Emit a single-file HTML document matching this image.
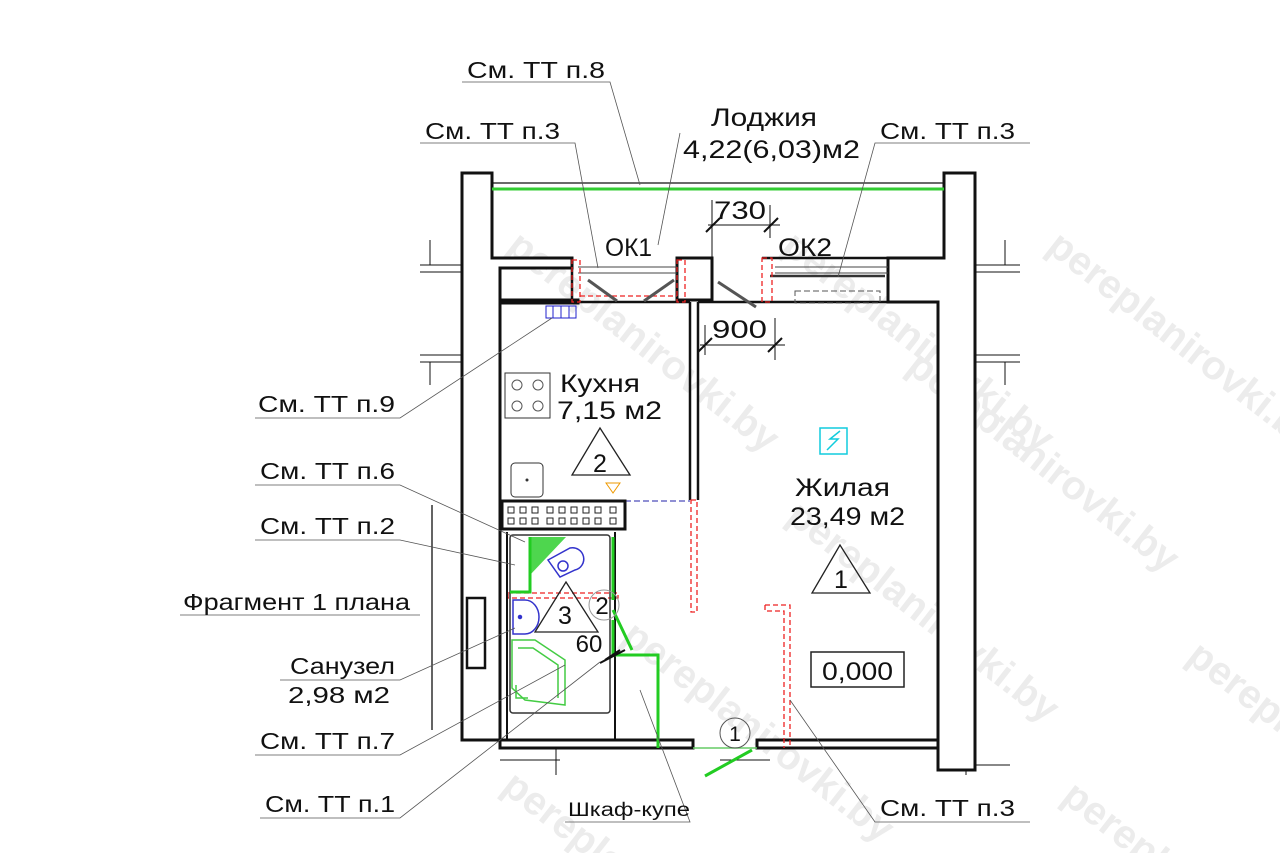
<!DOCTYPE html>
<html><head><meta charset="utf-8"><style>
html,body{margin:0;padding:0;background:#fff;width:1280px;height:853px;overflow:hidden}
svg{display:block}
text{font-family:"Liberation Sans",sans-serif;fill:#111}
.wm{font-family:"Liberation Sans",sans-serif;font-weight:bold;font-size:40px;fill:#ececec}
</style></head><body>
<svg width="1280" height="853" viewBox="0 0 1280 853" xmlns="http://www.w3.org/2000/svg">
<g>
<text class="wm" transform="translate(505,250) rotate(38)">pereplanirovki.by</text>
<text class="wm" transform="translate(780,250) rotate(38)">pereplanirovki.by</text>
<text class="wm" transform="translate(1045,250) rotate(38)">pereplanirovki.by</text>
<text class="wm" transform="translate(905,370) rotate(38)">pereplanirovki.by</text>
<text class="wm" transform="translate(785,520) rotate(38)">pereplanirovki.by</text>
<text class="wm" transform="translate(620,640) rotate(38)">pereplanirovki.by</text>
<text class="wm" transform="translate(1185,660) rotate(38)">pereplanirovki.by</text>
<text class="wm" transform="translate(500,790) rotate(38)">pereplanirovki.by</text>
<text class="wm" transform="translate(1060,800) rotate(38)">pereplanirovki.by</text>
</g>

<g fill="none" stroke="#111" stroke-width="1">
<path d="M420,265 H462 M420,272 H462 M420,355 H462 M420,362 H462 M975,265 H1020 M975,272 H1020 M975,355 H1020 M975,362 H1020"/>
<path d="M430,240 V265 M430,362 V385 M1005,240 V265 M1005,362 V385"/>
<path d="M500,760 H560 M720,760 H770 M965,765 H1010 M556,748 V775 M966,770 V775"/>
</g>

<g fill="#fff" stroke="#111" stroke-width="3" stroke-linejoin="miter">
<path d="M462,173 H492 V258 H572 V268 H500 V300 H578 V303 H500 V740 H462 Z"/>
<path d="M944,173 H975 V770 H938 V302 H888 V258 H944 Z"/>
<rect x="677" y="258" width="35" height="42"/>
<rect x="500" y="740" width="193" height="8"/>
<rect x="757" y="740" width="181" height="8"/>
</g>
<g fill="none" stroke="#111" stroke-width="2.5">
<path d="M492,258 H572 V300 M500,300 H578"/>
<path d="M762,258 H888 V300"/>
<path d="M500,302 H690 M698,302 H938"/>
<path d="M690,302 V500 M698,302 V500"/>
<path d="M500,302 V740"/>
<path d="M938,302 V770"/>
</g>
<line x1="492" y1="183" x2="944" y2="183" stroke="#111" stroke-width="1.2"/>
<line x1="492" y1="189" x2="944" y2="189" stroke="#3c3" stroke-width="3"/>
<g stroke="#444" stroke-width="1" fill="none">
<path d="M578,267 H677 M578,273 H677 M775,267 H888 M775,273 H888"/>
</g>
<line x1="770" y1="276" x2="885" y2="276" stroke="#333" stroke-width="2.5"/>
<rect x="795" y="291" width="85" height="12" fill="none" stroke="#555" stroke-dasharray="6,3"/>
<g fill="none" stroke="#e22" stroke-width="1.3" stroke-dasharray="5,3">
<rect x="572" y="260" width="8" height="42"/>
<rect x="677" y="260" width="8" height="42"/>
<rect x="762" y="258" width="10" height="44"/>
<path d="M580,296 H677"/>
<rect x="691" y="500" width="6" height="112"/>
<path d="M765,605 H790 V748 M765,605 V611 H784 V748"/>
<rect x="508" y="593" width="110" height="5"/>
</g>
<g stroke="#555" stroke-width="3">
<line x1="588" y1="280" x2="617" y2="301"/>
<line x1="674" y1="280" x2="644" y2="301"/>
<line x1="718" y1="282" x2="756" y2="307"/>
</g>
<g stroke="#111" stroke-width="1" fill="none">
<path d="M708,225 H780 M712,200 V258 M770,205 V238"/>
<path d="M706,232 L720,218 M764,232 L778,218" stroke-width="2"/>
<path d="M700,345 H785 M705,325 V355 M775,318 V360"/>
<path d="M698,352 L712,338 M768,352 L782,338" stroke-width="2"/>
</g>
<rect x="505" y="373" width="45" height="45" fill="none" stroke="#333"/>
<g fill="none" stroke="#555"><circle cx="517" cy="385" r="5"/><circle cx="538" cy="385" r="5"/><circle cx="517" cy="406" r="5"/><circle cx="538" cy="406" r="5"/></g>
<rect x="511" y="463" width="32" height="34" rx="4" fill="none" stroke="#333"/>
<circle cx="527" cy="480" r="1.5" fill="#333"/>
<rect x="546" y="306" width="30" height="12" fill="none" stroke="#22c"/>
<path d="M553,306 V318 M561,306 V318 M569,306 V318" stroke="#22c"/>
<polygon points="606,483 620,483 613,493" fill="none" stroke="#e90"/>
<line x1="625" y1="501" x2="690" y2="501" stroke="#22a" stroke-dasharray="6,3"/>
<rect x="502" y="501" width="123" height="28" fill="#fff" stroke="#111" stroke-width="3"/>
<g fill="none" stroke="#222" stroke-width="1">
<rect x="508" y="507" width="6" height="6"/><rect x="520" y="507" width="6" height="6"/><rect x="532" y="507" width="6" height="6"/><rect x="547" y="507" width="6" height="6"/><rect x="559" y="507" width="6" height="6"/><rect x="571" y="507" width="6" height="6"/><rect x="583" y="507" width="6" height="6"/><rect x="595" y="507" width="6" height="6"/><rect x="610" y="507" width="6" height="6"/>
<rect x="508" y="518" width="6" height="6"/><rect x="520" y="518" width="6" height="6"/><rect x="532" y="518" width="6" height="6"/><rect x="547" y="518" width="6" height="6"/><rect x="559" y="518" width="6" height="6"/><rect x="571" y="518" width="6" height="6"/><rect x="583" y="518" width="6" height="6"/><rect x="595" y="518" width="6" height="6"/><rect x="610" y="518" width="6" height="6"/>
</g>
<rect x="510" y="535" width="100" height="178" rx="3" fill="none" stroke="#333" stroke-width="1.5"/>
<path d="M507,532 V740 M615,532 V740" stroke="#111" stroke-width="2"/>
<g fill="none" stroke="#2c2" stroke-width="3">
<path d="M613,537 V600 M613,620 V655 H658 V748"/>
<path d="M613,610 L632,650"/>
<path d="M530,537 V592 H510"/>
</g>
<polygon points="530,537 566,537 530,575" fill="#2c2" opacity="0.8"/>
<g fill="none" stroke="#4c4" stroke-width="1.5">
<path d="M512,640 H535 L565,660 V705 L525,700 L512,688 Z"/>
<path d="M518,648 H533 L558,665 V698"/>
<path d="M516,685 V698 H528"/>
</g>
<g fill="none" stroke="#33c" stroke-width="1.5">
<path d="M548,560 L570,548 A10,10 0 0 1 575,570 L560,577 Z"/>
<circle cx="563" cy="566" r="5"/>
<path d="M513,600 H525 A14,17 0 0 1 525,634 H513 Z"/>
<circle cx="520" cy="617" r="1.5" fill="#33c"/>
</g>
<line x1="693" y1="748" x2="757" y2="748" stroke="#6c6" stroke-width="1.5"/>
<line x1="705" y1="776" x2="752" y2="750" stroke="#2c2" stroke-width="3"/>
<circle cx="735" cy="733" r="15" fill="none" stroke="#555"/>
<text x="735" y="741" font-size="21" text-anchor="middle">1</text>
<circle cx="604" cy="605" r="15" fill="none" stroke="#999"/>
<text x="602" y="614" font-size="24" text-anchor="middle">2</text>
<polygon points="600,428 572,475 630,475" fill="none" stroke="#222" stroke-width="1.3"/>
<text x="600" y="472" font-size="25" text-anchor="middle">2</text>
<polygon points="840,545 812,593 870,593" fill="none" stroke="#222" stroke-width="1.3"/>
<text x="841" y="588" font-size="25" text-anchor="middle">1</text>
<polygon points="566,582 535,632 598,632" fill="none" stroke="#222" stroke-width="1.3"/>
<text x="565" y="624" font-size="25" text-anchor="middle">3</text>
<text x="589" y="652" font-size="24" text-anchor="middle">60</text>
<path d="M600,663 L625,650 M605,660 L620,650" stroke="#111" stroke-width="2"/>
<rect x="811" y="652" width="93" height="35" fill="none" stroke="#222" stroke-width="1.5"/>
<text x="822" y="680" font-size="25" textLength="71" lengthAdjust="spacingAndGlyphs">0,000</text>
<rect x="820" y="428" width="27" height="26" fill="none" stroke="#1cd" stroke-width="1.5"/>
<path d="M827,450 L838,439 H830 L840,431" fill="none" stroke="#1cd" stroke-width="1.5"/>
<path d="M432,505 V730" stroke="#111" stroke-width="1.3"/>
<rect x="467" y="598" width="18" height="70" fill="#fff" stroke="#111" stroke-width="2.5"/>

<g stroke="#555" stroke-width="0.8" fill="none">
<path d="M462,82 H610 L640,185"/>
<path d="M420,143 H575 L598,268"/>
<path d="M1030,143 H875 L838,277"/>
<path d="M680,133 L658,245"/>
<path d="M255,418 H400 L552,318"/>
<path d="M255,485 H400 L525,542"/>
<path d="M255,540 H400 L515,565"/>
<path d="M180,615 H420"/>
<path d="M280,680 H400 L515,628"/>
<path d="M255,755 H400 L565,665"/>
<path d="M260,818 H400 L600,662"/>
<path d="M565,822 H690 L640,690"/>
<path d="M1030,822 H875 L790,700"/>
</g>

<g font-size="23">
<text x="467" y="78" textLength="138" lengthAdjust="spacingAndGlyphs">См. ТТ п.8</text>
<text x="711" y="126" font-size="25" textLength="106" lengthAdjust="spacingAndGlyphs">Лоджия</text>
<text x="683" y="158" font-size="25" textLength="177" lengthAdjust="spacingAndGlyphs">4,22(6,03)м2</text>
<text x="425" y="139" textLength="135" lengthAdjust="spacingAndGlyphs">См. ТТ п.3</text>
<text x="880" y="139" textLength="135" lengthAdjust="spacingAndGlyphs">См. ТТ п.3</text>
<text x="605" y="256" font-size="25" textLength="47" lengthAdjust="spacingAndGlyphs">ОК1</text>
<text x="778" y="256" font-size="25" textLength="54" lengthAdjust="spacingAndGlyphs">ОК2</text>
<text x="714" y="219" font-size="25" textLength="52" lengthAdjust="spacingAndGlyphs">730</text>
<text x="712" y="338" font-size="25" textLength="55" lengthAdjust="spacingAndGlyphs">900</text>
<text x="560" y="392" font-size="25" textLength="80" lengthAdjust="spacingAndGlyphs">Кухня</text>
<text x="557" y="419" font-size="25" textLength="105" lengthAdjust="spacingAndGlyphs">7,15 м2</text>
<text x="258" y="412" textLength="137" lengthAdjust="spacingAndGlyphs">См. ТТ п.9</text>
<text x="260" y="479" textLength="135" lengthAdjust="spacingAndGlyphs">См. ТТ п.6</text>
<text x="260" y="534" textLength="135" lengthAdjust="spacingAndGlyphs">См. ТТ п.2</text>
<text x="183" y="610" textLength="227" lengthAdjust="spacingAndGlyphs">Фрагмент 1 плана</text>
<text x="290" y="674" textLength="105" lengthAdjust="spacingAndGlyphs">Санузел</text>
<text x="288" y="703" textLength="102" lengthAdjust="spacingAndGlyphs">2,98 м2</text>
<text x="260" y="749" textLength="135" lengthAdjust="spacingAndGlyphs">См. ТТ п.7</text>
<text x="265" y="812" textLength="130" lengthAdjust="spacingAndGlyphs">См. ТТ п.1</text>
<text x="568" y="816" font-size="19" textLength="122" lengthAdjust="spacingAndGlyphs">Шкаф-купе</text>
<text x="880" y="816" textLength="135" lengthAdjust="spacingAndGlyphs">См. ТТ п.3</text>
<text x="795" y="496" font-size="25" textLength="95" lengthAdjust="spacingAndGlyphs">Жилая</text>
<text x="790" y="525" font-size="25" textLength="115" lengthAdjust="spacingAndGlyphs">23,49 м2</text>
</g>
</svg>
</body></html>
